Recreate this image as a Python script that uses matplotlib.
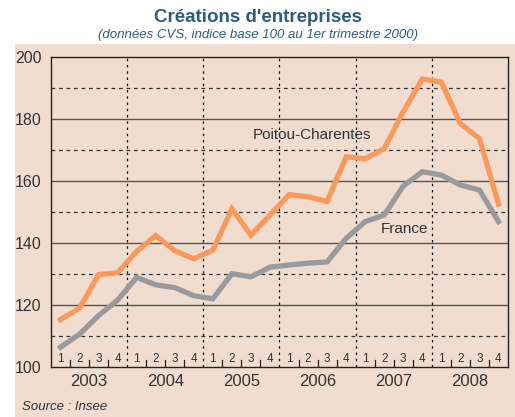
import matplotlib
matplotlib.use('Agg')
import matplotlib.pyplot as plt
from matplotlib.patches import Rectangle

plt.rcParams['font.family'] = ['Liberation Sans', 'DejaVu Sans']

# données trimestrielles 2003T1 .. 2008T4
years = ['2003', '2004', '2005', '2006', '2007', '2008']
quarters = ['1', '2', '3', '4']
poitou = [115.3, 119.0, 129.8, 130.4, 137.3, 142.4, 137.5, 134.9,
          137.7, 151.0, 142.5, 149.0, 155.6, 154.9, 153.4, 167.8,
          167.2, 170.4, 182.4, 192.9, 191.9, 178.5, 173.7, 152.6]
france = [106.4, 110.6, 116.6, 121.6, 128.9, 126.5, 125.6, 123.0,
          122.0, 130.1, 129.1, 132.2, 132.9, 133.5, 133.9, 141.5,
          146.9, 149.0, 158.4, 163.0, 161.9, 158.7, 157.1, 146.9]

bg = '#f0ddd0'
fig = plt.figure(figsize=(5.15, 4.17), dpi=100)
fig.patches.append(Rectangle((15 / 515, 0), 1, 1 - 44 / 417, transform=fig.transFigure,
                             facecolor=bg, edgecolor='none', zorder=-10))

fig.text(0.5, 1 - 17 / 417, "Créations d'entreprises", ha='center', va='center',
         fontsize=13.5, fontweight='bold', color='#2b5e7e')
fig.text(0.5, 1 - 35 / 417, "(données CVS, indice base 100 au 1er trimestre 2000)",
         ha='center', va='center', fontsize=9.5, style='italic', color='#2b5e7e')

ax = fig.add_axes([51 / 515, 50 / 417, 457 / 515, 310 / 417])
ax.set_facecolor(bg)

x = list(range(len(poitou)))
ax.set_xlim(-0.5, len(poitou) - 0.5)
ax.set_ylim(100, 200)

# grille
for v in [120, 140, 160, 180]:
    ax.axhline(v, color='#555555', lw=1.0, zorder=1)
for v in [110, 130, 150, 170, 190]:
    ax.axhline(v, color='#333333', lw=0.9, ls=(0, (3, 3)), zorder=1)
for i in range(1, len(years)):
    ax.axvline(i * 4 - 0.5, color='#111111', lw=0.9, ls=(0, (2, 3)), zorder=1)

ax.plot(x, poitou, color='#f99a5c', lw=3.8, solid_joinstyle='miter', zorder=3)
ax.plot(x, france, color='#999a9c', lw=3.8, solid_joinstyle='miter', zorder=3)

ax.text(10.1, 174.8, 'Poitou-Charentes', fontsize=11, va='center', color='#333333')
ax.text(16.8, 144.5, 'France', fontsize=11, va='center', color='#333333')

# trimestres et petits traits
for i in x:
    ax.text(i, 100.6, quarters[i % 4], ha='center', va='bottom', fontsize=8.5, color='#333333')
    if i % 4 != 3 and i < len(x) - 1:
        ax.plot([i + 0.5, i + 0.5], [100, 102.3], color='#222222', lw=0.9)

ax.set_xticks([j * 4 + 1.5 for j in range(len(years))])
ax.set_xticklabels(years, fontsize=12, color='#333333')
ax.tick_params(axis='x', length=0, pad=5)
ax.set_yticks([100, 120, 140, 160, 180, 200])
ax.tick_params(axis='y', length=0, pad=7, labelsize=11.5, labelcolor='#333333')
for s in ax.spines.values():
    s.set_color('#222222')
    s.set_linewidth(1.0)

fig.text(22 / 515, 1 - 407 / 417, 'Source : Insee', fontsize=9.5, style='italic',
         va='center', color='#333333')

fig.savefig('out.png', dpi=100)
